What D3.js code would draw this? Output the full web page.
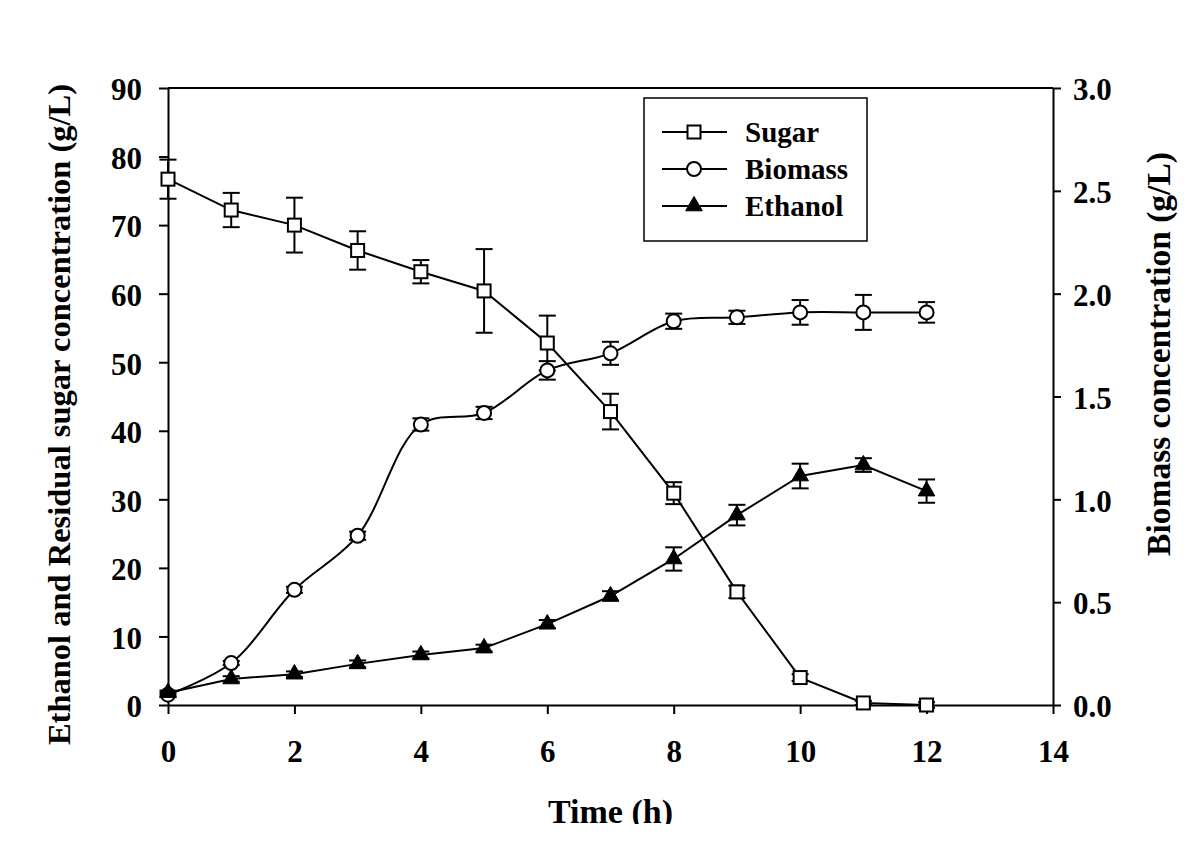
<!DOCTYPE html>
<html>
<head>
<meta charset="utf-8">
<script src="https://cdn.jsdelivr.net/npm/d3@7"></script>
<style>
  html, body { margin: 0; padding: 0; background: #fff; }
  svg { display: block; }
  text { font-family: "Liberation Serif", "Times New Roman", serif; font-weight: bold; fill: #000; }
</style>
</head>
<body>
<script>
// ---- data ----
const time = [0, 1, 2, 3, 4, 5, 6, 7, 8, 9, 10, 11, 12];
const sugar = [76.7, 72.2, 70.0, 66.3, 63.2, 60.4, 52.8, 42.8, 30.9, 16.5, 4.0, 0.3, 0.0];
const sugarErr = [2.85, 2.5, 4.0, 2.8, 1.7, 6.1, 4.0, 2.6, 1.6, 0.9, 0.5, 0.3, 0.4];
const biomass = [0.05, 0.204, 0.56, 0.823, 1.364, 1.42, 1.627, 1.71, 1.866, 1.885, 1.909, 1.909, 1.909];
const biomassErr = [0.01, 0.01, 0.015, 0.02, 0.03, 0.03, 0.045, 0.056, 0.037, 0.032, 0.06, 0.085, 0.05];
const ethanol = [1.8, 3.8, 4.5, 6.0, 7.3, 8.3, 11.8, 15.9, 21.3, 27.7, 33.4, 35.0, 31.2];
const ethanolErr = [0.3, 0.4, 0.4, 0.5, 0.5, 0.5, 0.6, 0.7, 1.7, 1.5, 1.8, 1.0, 1.7];
const xTicks = [0, 2, 4, 6, 8, 10, 12, 14];
const yLeftTicks = [0, 10, 20, 30, 40, 50, 60, 70, 80, 90];
const yRightTicks = [0, 0.5, 1.0, 1.5, 2.0, 2.5, 3.0];
const legendNames = ["Sugar", "Biomass", "Ethanol"];
const xTitle = "Time (h)";
const yLeftTitle = "Ethanol and Residual sugar concentration (g/L)";
const yRightTitle = "Biomass concentration (g/L)";

// ---- layout ----
const W = 1200, H = 858;
const L = 168, R = 1053, T = 88, B = 705;

const svg = d3.select("body").append("svg").attr("width", W).attr("height", H);

const x = d3.scaleLinear().domain([0, 14]).range([L, R]);
const yL = d3.scaleLinear().domain([0, 90]).range([B, T]);
const yR = d3.scaleLinear().domain([0, 3]).range([B, T]);

const tickFont = "31px";

// frame top line
svg.append("line").attr("x1", L).attr("x2", R).attr("y1", T).attr("y2", T)
  .attr("stroke", "#000").attr("stroke-width", 2);

// bottom axis
const gx = svg.append("g").attr("transform", `translate(0,${B})`)
  .call(d3.axisBottom(x).tickValues(xTicks).tickFormat(d3.format("d")).tickSize(9).tickSizeOuter(0).tickPadding(26));
// left axis
const gyl = svg.append("g").attr("transform", `translate(${L},0)`)
  .call(d3.axisLeft(yL).tickValues(yLeftTicks).tickFormat(d3.format("d")).tickSize(9).tickSizeOuter(0).tickPadding(17));
// right axis
const gyr = svg.append("g").attr("transform", `translate(${R},0)`)
  .call(d3.axisRight(yR).tickValues(yRightTicks).tickFormat(d3.format(".1f")).tickSize(8).tickSizeOuter(0).tickPadding(12));

[gx, gyl, gyr].forEach(g => {
  g.selectAll(".domain").attr("stroke", "#000").attr("stroke-width", 2);
  g.selectAll(".tick line").attr("stroke", "#000").attr("stroke-width", 2);
  g.selectAll(".tick text").style("font-size", tickFont)
    .style("font-family", '"Liberation Serif", "Times New Roman", serif').style("font-weight", "bold")
    .attr("fill", "#000");
});
gx.selectAll(".tick text").attr("dy", "0.71em");
gyl.selectAll(".tick text").attr("dy", "0.38em");
gyr.selectAll(".tick text").attr("dy", "0.38em");

// axis titles
const clip = svg.append("defs").append("clipPath").attr("id", "cutbottom");
clip.append("rect").attr("x", 0).attr("y", 0).attr("width", W).attr("height", 824);
svg.append("text").attr("x", (L + R) / 2).attr("y", 823).attr("text-anchor", "middle")
  .attr("clip-path", "url(#cutbottom)")
  .style("font-size", "34px").text(xTitle);

svg.append("text").attr("transform", `translate(70,${(T + 745) / 2 - 2}) rotate(-90)`)
  .attr("text-anchor", "middle").style("font-size", "32.5px").text(yLeftTitle);

svg.append("text").attr("transform", `translate(1170,354) rotate(-90)`)
  .attr("text-anchor", "middle").style("font-size", "33.5px").text(yRightTitle);

// ---- series ----
function errorBars(vals, errs, yS) {
  const g = svg.append("g").attr("stroke", "#000").attr("stroke-width", 2).attr("fill", "none");
  time.forEach((t, i) => {
    const cx = x(t), y1 = yS(vals[i] + errs[i]), y2 = yS(Math.max(vals[i] - errs[i], yS.domain()[0] - 1));
    g.append("line").attr("x1", cx).attr("x2", cx).attr("y1", y1).attr("y2", y2);
    g.append("line").attr("x1", cx - 8.5).attr("x2", cx + 8.5).attr("y1", y1).attr("y2", y1);
    g.append("line").attr("x1", cx - 8.5).attr("x2", cx + 8.5).attr("y1", y2).attr("y2", y2);
  });
}

const sugarLine = d3.line().x((d, i) => x(time[i])).y(d => yL(d));
const etLine = d3.line().x((d, i) => x(time[i])).y(d => yL(d));
const bioLine = d3.line().x((d, i) => x(time[i])).y(d => yR(d)).curve(d3.curveCatmullRom.alpha(0.5));

// Sugar
errorBars(sugar, sugarErr, yL);
svg.append("path").datum(sugar).attr("d", sugarLine).attr("fill", "none").attr("stroke", "#000").attr("stroke-width", 2);
svg.append("g").selectAll("rect").data(sugar).join("rect")
  .attr("x", (d, i) => x(time[i]) - 6.5).attr("y", d => yL(d) - 6.5)
  .attr("width", 13).attr("height", 13)
  .attr("fill", "#fff").attr("stroke", "#000").attr("stroke-width", 2);

// Biomass
errorBars(biomass, biomassErr, yR);
svg.append("path").datum(biomass).attr("d", bioLine).attr("fill", "none").attr("stroke", "#000").attr("stroke-width", 2);
svg.append("g").selectAll("circle").data(biomass).join("circle")
  .attr("cx", (d, i) => x(time[i])).attr("cy", d => yR(d)).attr("r", 7)
  .attr("fill", "#fff").attr("stroke", "#000").attr("stroke-width", 2);

// Ethanol
errorBars(ethanol, ethanolErr, yL);
svg.append("path").datum(ethanol).attr("d", etLine).attr("fill", "none").attr("stroke", "#000").attr("stroke-width", 2);
const tri = d3.symbol().type(d3.symbolTriangle).size(120);
svg.append("g").selectAll("path").data(ethanol).join("path")
  .attr("d", tri).attr("transform", (d, i) => `translate(${x(time[i])},${yL(d)})`)
  .attr("fill", "#000").attr("stroke", "#000").attr("stroke-width", 1);

// ---- legend ----
const lg = svg.append("g");
lg.append("rect").attr("x", 644).attr("y", 98).attr("width", 223).attr("height", 143)
  .attr("fill", "#fff").attr("stroke", "#000").attr("stroke-width", 1.5);
const rowY = [132, 169, 206];
legendNames.forEach((name, i) => {
  const y = rowY[i];
  lg.append("line").attr("x1", 662).attr("x2", 727).attr("y1", y).attr("y2", y)
    .attr("stroke", "#000").attr("stroke-width", 2);
  if (i === 0) {
    lg.append("rect").attr("x", 694 - 6.5).attr("y", y - 6.5).attr("width", 13).attr("height", 13)
      .attr("fill", "#fff").attr("stroke", "#000").attr("stroke-width", 2);
  } else if (i === 1) {
    lg.append("circle").attr("cx", 694).attr("cy", y).attr("r", 7)
      .attr("fill", "#fff").attr("stroke", "#000").attr("stroke-width", 2);
  } else {
    lg.append("path").attr("d", tri).attr("transform", `translate(694,${y})`)
      .attr("fill", "#000").attr("stroke", "#000").attr("stroke-width", 1);
  }
  lg.append("text").attr("x", 745).attr("y", y).attr("dy", "0.35em").style("font-size", "29px").text(name);
});
</script>
</body>
</html>
